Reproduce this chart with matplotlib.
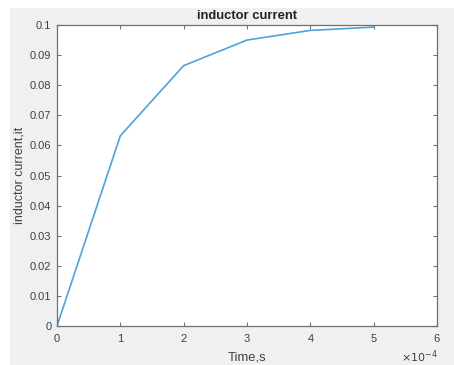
import matplotlib
matplotlib.use("Agg")
import matplotlib.pyplot as plt
from matplotlib.patches import Rectangle

time_s = [0, 1e-4, 2e-4, 3e-4, 4e-4, 5e-4]
current = [0.0, 0.0632, 0.0865, 0.0950, 0.0982, 0.0993]

plt.rcParams['font.family'] = ['Liberation Sans', 'DejaVu Sans']

fig = plt.figure(figsize=(4.54, 3.65), dpi=100)
fig.patch.set_facecolor('white')
fig.patches.append(Rectangle((10/454, -0.05), 1.1, 1.05 - 8/365, transform=fig.transFigure,
                             facecolor='#f0f0f0', edgecolor='none', zorder=-10))

ax = fig.add_axes([57/454, 1 - 326/365, (437-57)/454, (326-25)/365])
ax.set_facecolor('white')
ax.plot(time_s, current, color='#4da3dc', linewidth=1.2)
ax.set_xlim(0, 6e-4)
ax.set_ylim(0, 0.1)
ax.set_xticks([i*1e-4 for i in range(7)])
ax.set_xticklabels([str(i) for i in range(7)])
ax.set_yticks([i*0.01 for i in range(11)])
ax.set_yticklabels(['0'] + ['%.2f' % (i*0.01) for i in range(1, 10)] + ['0.1'])

txtc = '#404040'
for s in ax.spines.values():
    s.set_color('#707070')
    s.set_linewidth(0.9)
ax.tick_params(direction='in', top=True, right=True, length=3, width=0.8,
               colors='#707070', labelcolor=txtc, labelsize=8)
ax.tick_params(axis='x', pad=6)
ax.tick_params(axis='y', pad=4)
ax.set_title('inductor current', fontsize=9.4, fontweight='bold', color='#222222', pad=4)
ax.set_xlabel('Time,s', fontsize=9.4, color=txtc, labelpad=5)
ax.set_ylabel('inductor current,it', fontsize=9, color=txtc, labelpad=3)
fig.text(419/454, 1 - 357/365, r'$\times10^{-4}$', fontsize=8, color=txtc,
         ha='center', va='center')

fig.savefig('out.png', dpi=100, facecolor=fig.get_facecolor())
